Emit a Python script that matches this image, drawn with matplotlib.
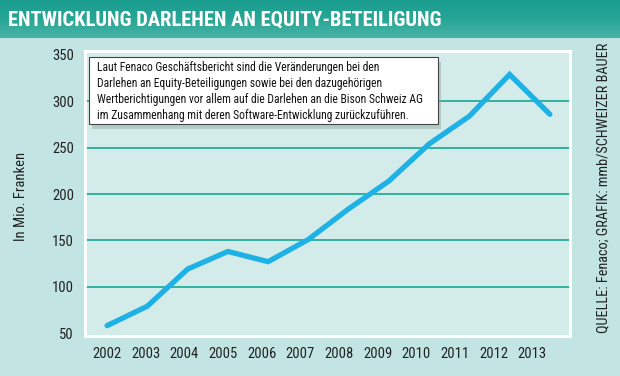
import numpy as np
import matplotlib.pyplot as plt
from matplotlib.colors import LinearSegmentedColormap
from matplotlib.patches import Rectangle

# Data (Mio. Franken)
years = np.array([2002, 2003, 2004, 2005, 2006, 2007, 2008, 2009, 2010, 2011, 2012, 2013])
values = np.array([58, 79, 119, 138, 127, 151, 184, 214, 254, 284, 329, 286])
yticks = [50, 100, 150, 200, 250, 300, 350]

title = "ENTWICKLUNG DARLEHEN AN EQUITY-BETEILIGUNG"
note = ("Laut Fenaco Geschäftsbericht sind die Veränderungen bei den\n"
        "Darlehen an Equity-Beteiligungen sowie bei den dazugehörigen\n"
        "Wertberichtigungen vor allem auf die Darlehen an die Bison Schweiz AG\n"
        "im Zusammenhang mit deren Software-Entwicklung zurückzuführen.")
source = "QUELLE: Fenaco; GRAFIK: mmb/SCHWEIZER BAUER"

plt.rcParams['font.family'] = ['Roboto Condensed', 'Liberation Sans Narrow', 'DejaVu Sans']

fig = plt.figure(figsize=(6.2, 3.76), dpi=100)
fig.patch.set_facecolor('#c2e5e3')

# title banner
banner = fig.add_axes([0, 1 - 38 / 376, 1, 38 / 376])
banner.imshow(np.linspace(0, 1, 50).reshape(-1, 1), aspect='auto',
              cmap=LinearSegmentedColormap.from_list('b', ['#1a9d8f', '#27a696', '#48b3a7']),
              extent=[0, 1, 0, 1])
banner.set_axis_off()
fig.text(8 / 620, 1 - 20 / 376, title, color='white', fontsize=14.8,
         fontweight='bold', va='center', ha='left')

ax = fig.add_axes([85 / 620, 1 - 336 / 376, 485 / 620, 285 / 376])
ax.set_facecolor('#d3ecea')
for s in ax.spines.values():
    s.set_color('white')
    s.set_linewidth(2)

ax.set_xlim(2001.45, 2013.5)
ax.set_ylim(46.8, 354.3)

for v in yticks[1:-1]:
    ax.axhline(v, color='#2fb3a0', lw=1.4, zorder=1)

ax.plot(years, values, color='#1db1e5', lw=3.8, solid_joinstyle='miter',
        solid_capstyle='round', zorder=3)

ax.set_yticks(yticks)
ax.set_yticklabels([str(v) for v in yticks], fontsize=10.5, color='#222222')
ax.set_xticks(2002 + (years - 2002) * 0.96)
ax.set_xticklabels([str(y) for y in years], fontsize=10.5, color='#222222')
ax.tick_params(length=0, pad=8)

ax.set_ylabel("In Mio. Franken", fontsize=10.5, color='#222222')
ax.yaxis.set_label_coords(-0.117, 0.49)

# note box with shadow
bx, by, bw, bh = 89 / 620, 1 - 124 / 376, 349 / 620, 67 / 376
fig.patches.append(Rectangle((bx + 0.005, by - 0.012), bw, bh, transform=fig.transFigure,
                             facecolor='#9fb5b3', edgecolor='none', alpha=0.6, zorder=4))
fig.patches.append(Rectangle((bx, by), bw, bh, transform=fig.transFigure,
                             facecolor='white', edgecolor='#444444', lw=0.8, zorder=5))
fig.text(97 / 620, 1 - 91.5 / 376, note, fontsize=8.4, color='#111111',
         va='center', ha='left', linespacing=1.3, zorder=6)

fig.text(603 / 620, 1 - 188 / 376, source, rotation=90, fontsize=10.3,
         color='#222222', ha='center', va='center')

fig.savefig('out.png', dpi=100, facecolor=fig.get_facecolor())
